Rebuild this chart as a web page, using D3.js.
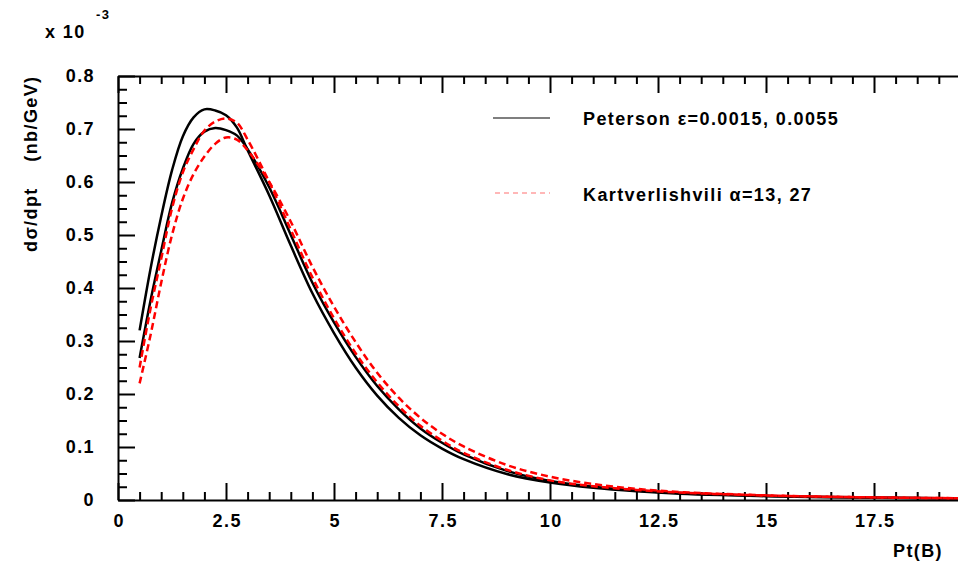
<!DOCTYPE html>
<html>
<head>
<meta charset="utf-8">
<script src="https://cdn.jsdelivr.net/npm/d3@7/dist/d3.min.js"></script>
<style>
  html, body { margin: 0; padding: 0; background: #fff; }
  svg { display: block; }
  text { font-family: "Liberation Sans", Arial, Helvetica, sans-serif; font-weight: bold; letter-spacing: 1.4px; }
</style>
</head>
<body>
<svg id="chart" width="958" height="568"></svg>
<script>
// ---- data (y in units of 10^-3 nb/GeV) ----
const ptValues = [0.5, 0.75, 1, 1.25, 1.5, 1.75, 2, 2.25, 2.5, 2.75, 3, 3.5, 4, 4.5, 5, 5.5, 6, 6.5, 7, 7.5, 8, 9, 10, 11, 12, 13, 14, 15, 16, 17, 18, 19, 20];
const peterson1 = [0.32, 0.435, 0.535, 0.622, 0.686, 0.722, 0.737, 0.735, 0.726, 0.703, 0.66, 0.575, 0.48, 0.39, 0.315, 0.25, 0.197, 0.155, 0.122, 0.097, 0.077, 0.049, 0.033, 0.023, 0.0165, 0.012, 0.0092, 0.0072, 0.0058, 0.0047, 0.0038, 0.0031, 0.0026];
const peterson2 = [0.268, 0.375, 0.47, 0.56, 0.625, 0.672, 0.695, 0.702, 0.698, 0.688, 0.662, 0.59, 0.50, 0.41, 0.335, 0.27, 0.215, 0.171, 0.135, 0.108, 0.086, 0.055, 0.036, 0.025, 0.018, 0.013, 0.010, 0.0078, 0.0062, 0.005, 0.0041, 0.0034, 0.0028];
const kart1 = [0.25, 0.36, 0.455, 0.55, 0.618, 0.662, 0.697, 0.714, 0.72, 0.712, 0.68, 0.60, 0.51, 0.42, 0.343, 0.277, 0.222, 0.177, 0.14, 0.112, 0.089, 0.057, 0.037, 0.026, 0.019, 0.014, 0.011, 0.0085, 0.0067, 0.0054, 0.0044, 0.0036, 0.003];
const kart2 = [0.22, 0.31, 0.41, 0.50, 0.568, 0.615, 0.648, 0.672, 0.684, 0.68, 0.66, 0.60, 0.525, 0.44, 0.365, 0.298, 0.24, 0.193, 0.155, 0.125, 0.101, 0.066, 0.044, 0.030, 0.021, 0.015, 0.0115, 0.0088, 0.0069, 0.0055, 0.0045, 0.0037, 0.0031];

const xMajorTicks = [0, 2.5, 5, 7.5, 10, 12.5, 15, 17.5];
const xTickLabels = ["0", "2.5", "5", "7.5", "10", "12.5", "15", "17.5"];
const yMajorTicks = [0, 0.1, 0.2, 0.3, 0.4, 0.5, 0.6, 0.7, 0.8];
const yTickLabels = ["0", "0.1", "0.2", "0.3", "0.4", "0.5", "0.6", "0.7", "0.8"];
const legendLabels = ["Peterson \u03b5=0.0015, 0.0055", "Kartverlishvili \u03b1=13, 27"];

// ---- layout ----
const svg = d3.select("#chart");
const L = 118, R = 982, T = 76, B = 500;
const x = d3.scaleLinear().domain([0, 20]).range([L, R]);
const y = d3.scaleLinear().domain([0, 0.8]).range([B, T]);

const xMinor = d3.range(0, 20.001, 0.5).filter(v => Math.abs(v / 2.5 - Math.round(v / 2.5)) > 1e-6);
const yMinor = d3.range(0, 0.8001, 0.025).filter(v => Math.abs(v / 0.1 - Math.round(v / 0.1)) > 1e-6);

svg.append("defs").append("clipPath").attr("id", "clip")
  .append("rect").attr("x", L).attr("y", T - 5).attr("width", R - L).attr("height", B - T + 5);

function styleAxis(g, keepDomain) {
  g.selectAll(".tick line").attr("stroke", "#000").attr("stroke-width", 2);
  if (keepDomain) g.select(".domain").attr("stroke", "#000").attr("stroke-width", 2);
  else g.select(".domain").remove();
  g.selectAll("text").attr("fill", "#000").style("font-size", "18px").style("font-weight", "bold");
}

// bottom axis
const gb = svg.append("g").attr("transform", `translate(0,${B})`)
  .call(d3.axisBottom(x).tickValues(xMajorTicks).tickSize(-17).tickSizeOuter(0).tickPadding(14)
    .tickFormat((d, i) => xTickLabels[i]));
styleAxis(gb, true);
gb.selectAll(".tick text").attr("dx", "0.7");
const gbm = svg.append("g").attr("transform", `translate(0,${B})`)
  .call(d3.axisBottom(x).tickValues(xMinor).tickSize(-8).tickFormat(""));
styleAxis(gbm, false);

// top axis
const gt = svg.append("g").attr("transform", `translate(0,${T})`)
  .call(d3.axisTop(x).tickValues(xMajorTicks).tickSize(-17).tickSizeOuter(0).tickFormat(""));
styleAxis(gt, true);
const gtm = svg.append("g").attr("transform", `translate(0,${T})`)
  .call(d3.axisTop(x).tickValues(xMinor).tickSize(-8).tickFormat(""));
styleAxis(gtm, false);

// left axis
const gl = svg.append("g").attr("transform", `translate(${L},0)`)
  .call(d3.axisLeft(y).tickValues(yMajorTicks).tickSize(-17).tickSizeOuter(0).tickPadding(23)
    .tickFormat((d, i) => yTickLabels[i]));
styleAxis(gl, true);
const glm = svg.append("g").attr("transform", `translate(${L},0)`)
  .call(d3.axisLeft(y).tickValues(yMinor).tickSize(-9).tickFormat(""));
styleAxis(glm, false);

// curves
const line = d3.line().x(d => x(d[0])).y(d => y(d[1])).curve(d3.curveCatmullRom.alpha(0.5));
const series = [
  { vals: peterson1, color: "#000", dash: null },
  { vals: peterson2, color: "#000", dash: null },
  { vals: kart1, color: "#ff0000", dash: "7,4" },
  { vals: kart2, color: "#ff0000", dash: "7,4" }
];
const gc = svg.append("g").attr("clip-path", "url(#clip)");
series.forEach(s => {
  gc.append("path")
    .datum(ptValues.map((p, i) => [p, s.vals[i]]))
    .attr("d", line)
    .attr("fill", "none")
    .attr("stroke", s.color)
    .attr("stroke-width", 2.5)
    .attr("stroke-dasharray", s.dash);
});

// legend
svg.append("line").attr("x1", 493).attr("x2", 550).attr("y1", 118).attr("y2", 118)
  .attr("stroke", "#000").attr("stroke-width", 1.2);
svg.append("text").attr("x", 583).attr("y", 125).style("font-size", "18px").text(legendLabels[0]);
svg.append("line").attr("x1", 495).attr("x2", 550).attr("y1", 193).attr("y2", 193)
  .attr("stroke", "#ff7070").attr("stroke-width", 1.2).attr("stroke-dasharray", "5,4");
svg.append("text").attr("x", 583).attr("y", 201).style("font-size", "18px").text(legendLabels[1]);

// axis titles
svg.append("text").attr("x", 45).attr("y", 38).style("font-size", "18px").text("x 10");
svg.append("text").attr("x", 96).attr("y", 19).style("font-size", "13px").text("-3");
svg.append("text")
  .attr("transform", "translate(37,252) rotate(-90)")
  .attr("text-anchor", "start")
  .style("font-size", "18px")
  .style("white-space", "pre")
  .text("d\u03c3/dpt    (nb/GeV)");
svg.append("text").attr("x", 943).attr("y", 557).attr("text-anchor", "end")
  .style("font-size", "18px").text("Pt(B)");
</script>
</body>
</html>
